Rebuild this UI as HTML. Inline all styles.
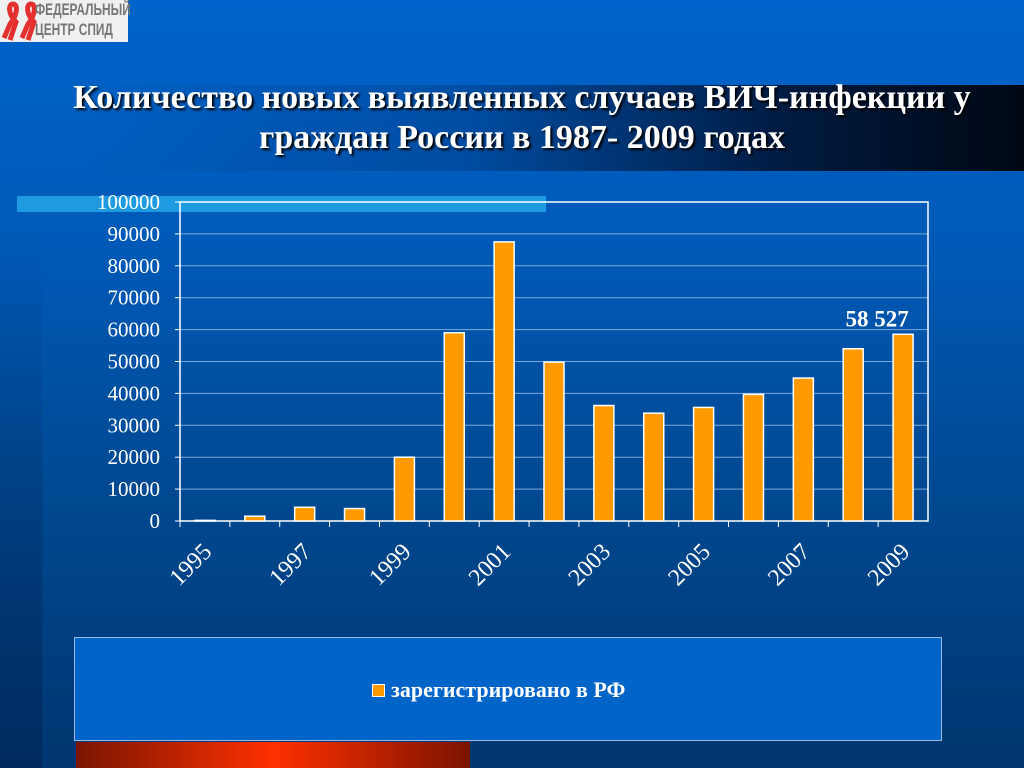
<!DOCTYPE html>
<html><head><meta charset="utf-8"><style>
body{margin:0;width:1024px;height:768px;overflow:hidden;position:relative;font-family:"Liberation Serif",serif;
background:linear-gradient(180deg,#0064cc 0%,#0058b4 35%,#004890 65%,#003670 100%);}
.abs{position:absolute}
</style></head><body>
<div class="abs" style="left:0;top:0;width:42px;height:768px;background:linear-gradient(180deg,rgba(0,0,0,0) 30%,rgba(0,20,60,0.35) 100%)"></div>
<div class="abs" style="left:85px;top:85px;width:939px;height:86px;background:linear-gradient(90deg,rgba(0,40,100,0) 0%,rgba(0,40,100,0.3) 40%,#001a40 75%,#000814 100%)"></div>
<div class="abs" style="left:0;top:0;width:128px;height:42px;background:#f0f0f0">
<svg width="40" height="42" class="abs" style="left:0;top:0"><g fill="none" stroke="#e53030" stroke-width="5"><path d="M10 40 L16 22 C8 14 8 4 13 4 C18 4 18 14 10 24 L4 38"/><path d="M28 40 L34 22 C26 14 26 4 31 4 C36 4 36 14 28 24 L22 38"/></g></svg>
<div class="abs" style="left:35px;top:0px;font:bold 17px/20px 'Liberation Sans',sans-serif;color:#777;transform:scaleX(0.7);transform-origin:left;white-space:nowrap">ФЕДЕРАЛЬНЫЙ<br>ЦЕНТР СПИД</div>
</div>
<div class="abs" style="left:0;top:78px;width:1044px;text-align:center;color:#fff;font-weight:bold;font-size:34px;line-height:40px;text-shadow:2px 2px 2px #000">Количество новых выявленных случаев ВИЧ-инфекции у<br>граждан России в 1987- 2009 годах</div>
<div class="abs" style="left:17px;top:196px;width:529px;height:16px;background:#1e9be0"></div>
<div class="abs" style="left:74px;top:637px;width:866px;height:102px;background:#0064c8;border:1px solid #9ab8e0"></div>
<div class="abs" style="left:372px;top:677px;color:#fff;font-weight:bold;font-size:22px;display:flex;align-items:center"><span style="width:11px;height:11px;background:#ff9900;border:1px solid #fff;margin-right:6px;display:inline-block"></span>зарегистрировано в РФ</div>
<div class="abs" style="left:76px;top:742px;width:394px;height:26px;background:linear-gradient(90deg,#7a1400,#ff3000 50%,#7a1400)"></div>
<svg class="abs" style="left:0;top:0" width="1024" height="768" id="chart"></svg>
<script>
const categories=["1995","1996","1997","1998","1999","2000","2001","2002","2003","2004","2005","2006","2007","2008","2009"];
const values=[200,1500,4300,3900,20000,59000,87500,49800,36200,33800,35600,39700,44800,54000,58527];
const yTicks=[0,10000,20000,30000,40000,50000,60000,70000,80000,90000,100000];
const ns="http://www.w3.org/2000/svg";
const svg=document.getElementById('chart');
const L=180,R=928,T=202,B=521,yMax=100000;
const bw=(R-L)/categories.length;
const y=v=>B-(v/yMax)*(B-T);
const x=i=>L+bw*(i+0.5);
function mk(t,a){const e=document.createElementNS(ns,t);for(const k in a)e.setAttribute(k,a[k]);svg.appendChild(e);return e;}
yTicks.forEach(t=>{
 if(t>0&&t<yMax){const g=mk('line',{x1:L,x2:R,y1:y(t),y2:y(t),stroke:'#7fa8d8','stroke-width':1});
 
 }
 const tx=mk('text',{x:L-20,y:y(t)+7,'text-anchor':'end',fill:'#fff','font-size':21,'font-family':'Liberation Serif, serif'});
 tx.textContent=t;
 
 
 const tk=mk('line',{x1:L-5,x2:L,y1:y(t),y2:y(t),stroke:'#fff'});
 
 
});
const fr=mk('rect',{x:L,y:T,width:R-L,height:B-T,fill:'none',stroke:'#fff','stroke-width':1.5});


values.forEach((v,i)=>{
 const r=mk('rect',{x:x(i)-10,y:y(v),width:20,height:B-y(v),fill:'#ff9900',stroke:'#fff','stroke-width':1.5});
 
 
 const tk=mk('line',{x1:L+bw*i,x2:L+bw*i,y1:B,y2:B+6,stroke:'#fff'});
 
 
 if(i%2===0){
  const ax=x(i)+8, ay=B+32;
  const tx=mk('text',{x:ax,y:ay,'text-anchor':'end',fill:'#fff','font-size':24,'font-family':'Liberation Serif, serif',transform:`rotate(-45 ${ax} ${ay})`});
  tx.textContent=categories[i];
  
  
 }
});
const last=values.length-1;
const lb=mk('text',{x:x(last)-26,y:y(values[last])-8,'text-anchor':'middle',fill:'#fff','font-size':23,'font-weight':'bold','font-family':'Liberation Serif, serif'});
lb.textContent="58 527";


</script>
</body></html>
